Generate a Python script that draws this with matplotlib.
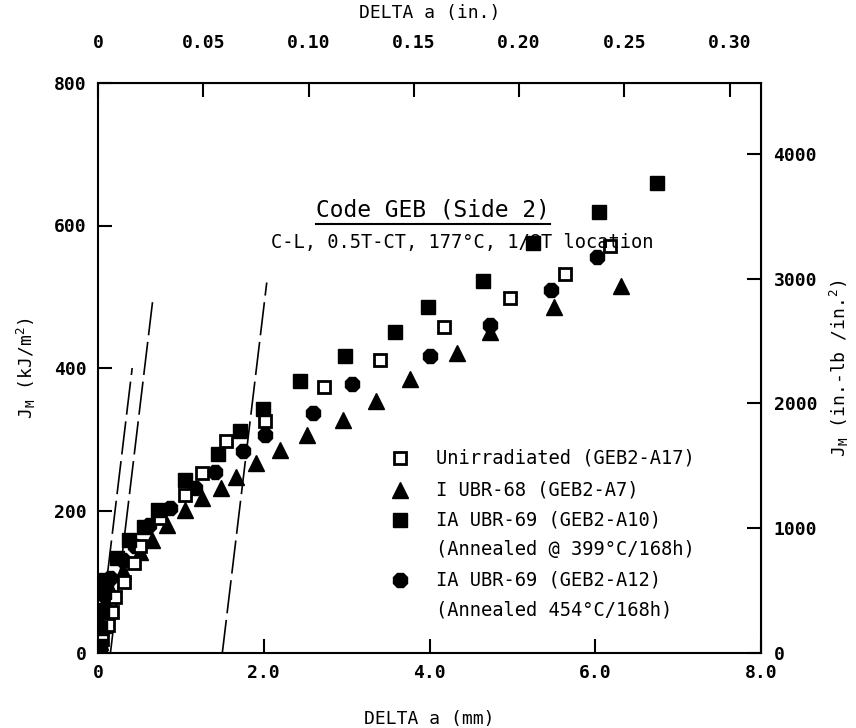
import numpy as np
import matplotlib
matplotlib.use("Agg")
from matplotlib import pyplot as plt

plt.rcParams['font.family'] = ['DejaVu Sans Mono', 'DejaVu Sans']
plt.rcParams['mathtext.fontset'] = 'custom'
plt.rcParams['mathtext.rm'] = 'DejaVu Sans Mono'
plt.rcParams['mathtext.default'] = 'rm'

# delta a (mm), J (kJ/m^2)
unirr_da = [0.05, 0.12, 0.17, 0.21, 0.31, 0.43, 0.51, 0.75, 1.05, 1.25, 1.55, 2.01,
            2.73, 3.40, 4.17, 4.97, 5.63, 6.18]
unirr_j = [20, 40, 58, 79, 100, 126, 150, 190, 222, 253, 297, 325,
           373, 411, 458, 498, 532, 571]

a7_da = [0.03, 0.06, 0.10, 0.15, 0.30, 0.51, 0.65, 0.83, 1.05, 1.25, 1.49, 1.67, 1.91,
         2.20, 2.52, 2.96, 3.36, 3.76, 4.33, 4.73, 5.50, 6.31]
a7_j = [15, 40, 70, 90, 115, 142, 159, 180, 201, 217, 231, 247, 266,
        285, 306, 327, 353, 384, 421, 450, 486, 515]

a10_da = [0.02, 0.03, 0.05, 0.07, 0.10, 0.23, 0.37, 0.55, 0.73, 1.05, 1.45, 1.71,
          1.99, 2.44, 2.98, 3.58, 3.98, 4.65, 5.25, 6.04, 6.75]
a10_j = [10, 35, 60, 85, 102, 133, 159, 177, 201, 243, 280, 311,
         342, 382, 417, 451, 485, 522, 576, 619, 659]

a12_da = [0.02, 0.04, 0.06, 0.09, 0.15, 0.30, 0.45, 0.61, 0.87, 1.17, 1.41, 1.75,
          2.01, 2.60, 3.06, 4.00, 4.73, 5.47, 6.02]
a12_j = [10, 30, 55, 80, 105, 130, 150, 180, 203, 232, 254, 283,
         306, 337, 378, 417, 460, 509, 556]

# blunting line and offset lines
blunt_slope = 970.0
line_offsets = [0.0, 0.15, 1.5]
line_tops = [400, 495, 520]

legend_labels = ["Unirradiated (GEB2-A17)", "I UBR-68 (GEB2-A7)",
                 "IA UBR-69 (GEB2-A10)", "(Annealed @ 399°C/168h)",
                 "IA UBR-69 (GEB2-A12)", "(Annealed 454°C/168h)"]

KJ_PER_INLB = 0.175127
MM_PER_IN = 25.4

fig = plt.figure(figsize=(8.56, 7.28), dpi=100)
ax = fig.add_axes([98/856, 75/728, 663/856, 570/728])

for off, top in zip(line_offsets, line_tops):
    jj = np.array([0, top])
    ax.plot(off + jj/blunt_slope, jj, color='black', lw=1.2,
            linestyle=(0, (20, 4)))

sq_open = dict(marker='s', ms=9, mfc='white', mec='black', mew=2, ls='none')
tri = dict(marker='^', ms=11, color='black', ls='none')
sq_fill = dict(marker='s', ms=9.5, color='black', ls='none')
circ = dict(marker='8', ms=10.5, color='black', ls='none')

ax.plot(a7_da, a7_j, **tri)
ax.plot(a12_da, a12_j, **circ)
ax.plot(unirr_da, unirr_j, **sq_open)
ax.plot(a10_da, a10_j, **sq_fill)

ax.set_xlim(0, 8)
ax.set_ylim(0, 800)
ax.set_xticks([0, 2, 4, 6, 8])
ax.set_xticklabels(["0", "2.0", "4.0", "6.0", "8.0"])
ax.set_yticks([0, 200, 400, 600, 800])
for sp in ax.spines.values():
    sp.set_linewidth(1.5)
ax.tick_params(direction='in', length=10, width=1.5, labelsize=13, pad=8)

top = ax.secondary_xaxis('top', functions=(lambda x: x/MM_PER_IN, lambda x: x*MM_PER_IN))
top.set_xticks([0, 0.05, 0.10, 0.15, 0.20, 0.25, 0.30])
top.set_xticklabels(["0", "0.05", "0.10", "0.15", "0.20", "0.25", "0.30"])
top.tick_params(direction='in', length=10, width=1.5, labelsize=13, pad=22)
top.set_xlabel("DELTA a (in.)", fontsize=13, labelpad=12)

right = ax.secondary_yaxis('right', functions=(lambda y: y/KJ_PER_INLB, lambda y: y*KJ_PER_INLB))
right.set_yticks([0, 1000, 2000, 3000, 4000])
right.tick_params(direction='in', length=10, width=1.5, labelsize=13, pad=9)
right.set_ylabel("J$_\\mathrm{M}$ (in.-lb /in.$^2$)", fontsize=13, rotation=90, labelpad=8)

for lab in (ax.get_xticklabels() + ax.get_yticklabels() + top.get_xticklabels()
            + right.get_yticklabels()):
    lab.set_fontweight('bold')

ax.set_xlabel("DELTA a (mm)", fontsize=13, labelpad=20)
ax.set_ylabel("J$_\\mathrm{M}$ (kJ/m$^2$)", fontsize=13, labelpad=12)

title = ax.text(0.505, 0.777, "Code GEB (Side 2)", transform=ax.transAxes,
                ha='center', va='center', fontsize=16.5)
ax.text(0.55, 0.721, "C-L, 0.5T-CT, 177°C, 1/8T location", transform=ax.transAxes,
        ha='center', va='center', fontsize=13.5)

fig.canvas.draw()
bb = title.get_window_extent().transformed(ax.transAxes.inverted())
ax.plot([bb.x0, bb.x1], [bb.y0 - 0.004, bb.y0 - 0.004], transform=ax.transAxes,
        color='black', lw=1.5)

# legend
styles = [sq_open, tri, sq_fill, None, circ, None]
ly = [0.342, 0.286, 0.233, 0.181, 0.128, 0.075]
for lab, st, yy in zip(legend_labels, styles, ly):
    if st is not None:
        ax.plot([0.455], [yy], transform=ax.transAxes, **st)
    ax.text(0.51, yy, lab, transform=ax.transAxes, ha='left', va='center', fontsize=13.5)

fig.savefig("out.png", dpi=100)
